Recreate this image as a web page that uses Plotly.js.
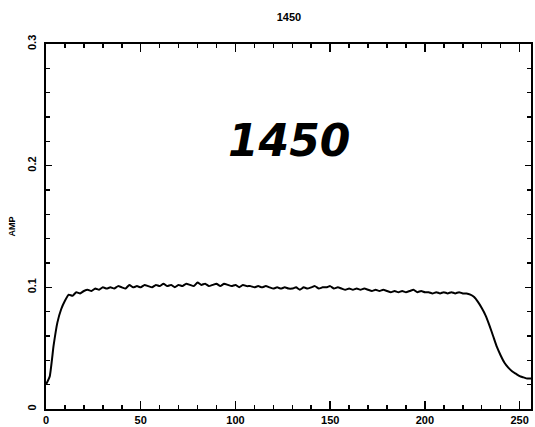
<!DOCTYPE html>
<html>
<head>
<meta charset="utf-8">
<script src="https://cdn.plot.ly/plotly-3.0.1.min.js"></script>
<style>html,body{margin:0;padding:0;background:#fff;}#chart{width:535px;height:427px;}</style>
</head>
<body>
<div id="chart"></div>
<script>
// Sample index (every 2nd channel) and amplitude
var channel = [0,2,4,6,8,10,12,14,16,18,20,22,24,26,28,30,32,34,36,38,40,42,44,46,48,50,52,54,56,58,60,62,64,66,68,70,72,74,76,78,80,82,84,86,88,90,92,94,96,98,100,102,104,106,108,110,112,114,116,118,120,122,124,126,128,130,132,134,136,138,140,142,144,146,148,150,152,154,156,158,160,162,164,166,168,170,172,174,176,178,180,182,184,186,188,190,192,194,196,198,200,202,204,206,208,210,212,214,216,218,220,222,224,226,228,230,232,234,236,238,240,242,244,246,248,250,252,254,256];
var amp = [0.020,0.027,0.052,0.071,0.082,0.089,0.094,0.093,0.096,0.095,0.097,0.098,0.097,0.099,0.098,0.100,0.099,0.100,0.099,0.101,0.100,0.099,0.102,0.100,0.101,0.100,0.102,0.101,0.100,0.102,0.101,0.103,0.101,0.102,0.100,0.102,0.101,0.103,0.102,0.101,0.104,0.102,0.103,0.101,0.102,0.103,0.101,0.103,0.102,0.101,0.102,0.100,0.102,0.101,0.101,0.100,0.101,0.100,0.101,0.100,0.099,0.100,0.099,0.100,0.099,0.099,0.100,0.098,0.100,0.099,0.100,0.101,0.099,0.100,0.100,0.101,0.099,0.100,0.099,0.098,0.099,0.098,0.099,0.098,0.099,0.098,0.097,0.098,0.097,0.098,0.097,0.096,0.097,0.096,0.097,0.096,0.097,0.098,0.096,0.097,0.096,0.096,0.095,0.096,0.095,0.096,0.095,0.096,0.095,0.096,0.095,0.095,0.094,0.092,0.088,0.083,0.077,0.069,0.060,0.051,0.044,0.038,0.034,0.031,0.029,0.027,0.026,0.025,0.025];
var chartTitle = "1450";
var yTitle = "AMP";
var noteText = "1450";

var tickFont = {family: "Liberation Sans, Arial, sans-serif", size: 11, color: "#000", weight: "bold"};

var trace = {
  x: channel, y: amp, type: "scatter", mode: "lines",
  line: {color: "#000", width: 2, shape: "spline", smoothing: 0.4}, hoverinfo: "skip"
};

var layout = {
  width: 535, height: 427,
  margin: {l: 46, r: 4, t: 44, b: 18, pad: 0},
  paper_bgcolor: "#fff", plot_bgcolor: "#fff",
  showlegend: false,
  title: {text: chartTitle, x: 0.54, xanchor: "center", y: 0.96, yanchor: "middle",
          font: {family: "Liberation Sans, Arial, sans-serif", size: 11, color: "#000", weight: "bold"}},
  xaxis: {
    range: [0, 256], dtick: 50, tick0: 0,
    showgrid: false, zeroline: false,
    showline: true, linecolor: "#000", linewidth: 2, mirror: "ticks",
    ticks: "inside", ticklen: 8, tickwidth: 1.5, tickcolor: "#000",
    minor: {dtick: 10, tick0: 0, ticks: "inside", ticklen: 4, tickwidth: 1.5, tickcolor: "#000", showgrid: false},
    tickfont: tickFont, ticklabelstandoff: 0
  },
  yaxis: {
    range: [0, 0.3], dtick: 0.1, tick0: 0,
    showgrid: false, zeroline: false,
    showline: true, linecolor: "#000", linewidth: 2, mirror: "ticks",
    ticks: "inside", ticklen: 6, tickwidth: 1.5, tickcolor: "#000",
    minor: {dtick: 0.02, tick0: 0, ticks: "inside", ticklen: 4, tickwidth: 1.5, tickcolor: "#000", showgrid: false},
    tickangle: -90, tickfont: tickFont, ticklabelstandoff: 4,
    title: {text: yTitle, standoff: 8, font: {family: "Liberation Sans, Arial, sans-serif", size: 9, color: "#000", weight: "bold"}}
  },
  annotations: [{
    text: noteText, xref: "paper", yref: "paper", x: 0.5, y: 0.735,
    xanchor: "center", yanchor: "middle", showarrow: false,
    font: {family: "DejaVu Sans, sans-serif", size: 44, color: "#000", style: "italic", weight: "bold"}
  }]
};

Plotly.newPlot("chart", [trace], layout, {staticPlot: true, displayModeBar: false});
</script>
</body>
</html>
